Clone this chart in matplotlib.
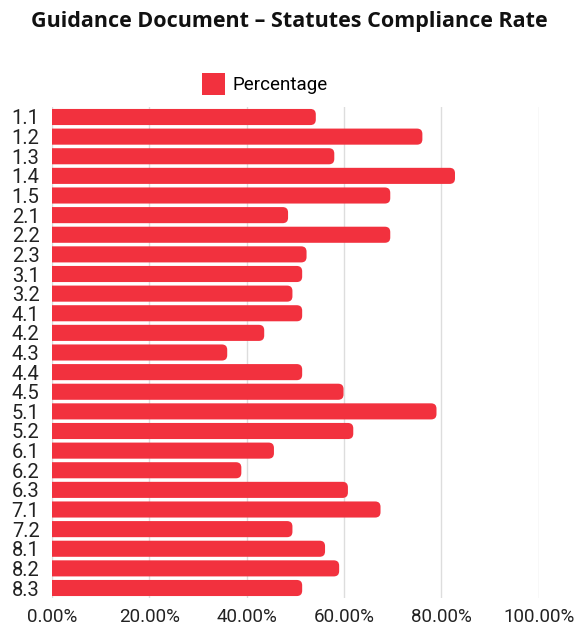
import matplotlib
matplotlib.use("Agg")
import matplotlib.pyplot as plt
from matplotlib.patches import FancyBboxPatch, BoxStyle, Patch

sections = ["1.1", "1.2", "1.3", "1.4", "1.5", "2.1", "2.2", "2.3", "3.1", "3.2",
            "4.1", "4.2", "4.3", "4.4", "4.5", "5.1", "5.2", "6.1", "6.2", "6.3",
            "7.1", "7.2", "8.1", "8.2", "8.3"]
percentage = [54.2, 76.1, 58.0, 82.8, 69.5, 48.5, 69.5, 52.3, 51.4, 49.4,
              51.4, 43.6, 36.0, 51.4, 59.9, 79.0, 61.9, 45.6, 38.9, 60.8,
              67.5, 49.4, 56.1, 59.0, 51.4]
xticks = [0, 20, 40, 60, 80, 100]
xtick_labels = ["0.00%", "20.00%", "40.00%", "60.00%", "80.00%", "100.00%"]

red = "#f2313e"

fig = plt.figure(figsize=(5.78, 6.25), dpi=100)
ax = fig.add_axes([0.09, 0.0435, 0.842, 0.785])

ypos = list(range(len(sections)))
bars = ax.barh(ypos, percentage, height=0.82, color=red, zorder=3)

# rounded right end: swap each bar for a rounded box, left end clipped at x=0
r = 1.1
aspect = (1 / 19.6) / (1 / 4.866)
for rect in bars:
    x0, y0 = rect.get_x(), rect.get_y()
    w, h = rect.get_width(), rect.get_height()
    rect.set_visible(False)
    ax.add_patch(FancyBboxPatch((x0 - 2 * r, y0), w + 2 * r, h,
                                boxstyle=BoxStyle.Round(pad=0, rounding_size=r),
                                mutation_aspect=aspect, facecolor=red,
                                edgecolor="none", zorder=3))

ax.set_xlim(0, 100)
ax.set_ylim(len(sections) - 0.5, -0.5)
ax.set_yticks(ypos)
ax.set_yticklabels(sections, fontsize=14.5, family="Roboto", color="#222222")
ax.set_xticks(xticks)
ax.set_xticklabels(xtick_labels, fontsize=13.5, family="Roboto", color="#222222")
ax.tick_params(length=0)
ax.tick_params(axis="y", pad=9)
ax.tick_params(axis="x", pad=7)
ax.xaxis.grid(True, color="#dddddd", linewidth=1, zorder=0)
for s in ax.spines.values():
    s.set_visible(False)

fig.text(0.5, 1 - 22 / 625, "Guidance Document \u2013 Statutes Compliance Rate",
         ha="center", va="center", fontsize=15.5, fontweight="bold",
         family="Open Sans", color="#111111")

fig.legend(handles=[Patch(facecolor=red, label="Percentage")],
           loc="center", bbox_to_anchor=(265 / 578, 1 - 84 / 625),
           frameon=False, handlelength=1.2, handleheight=1.4, handletextpad=0.4,
           prop={"family": "Roboto", "size": 13.5})

fig.savefig("out.png", dpi=100)
